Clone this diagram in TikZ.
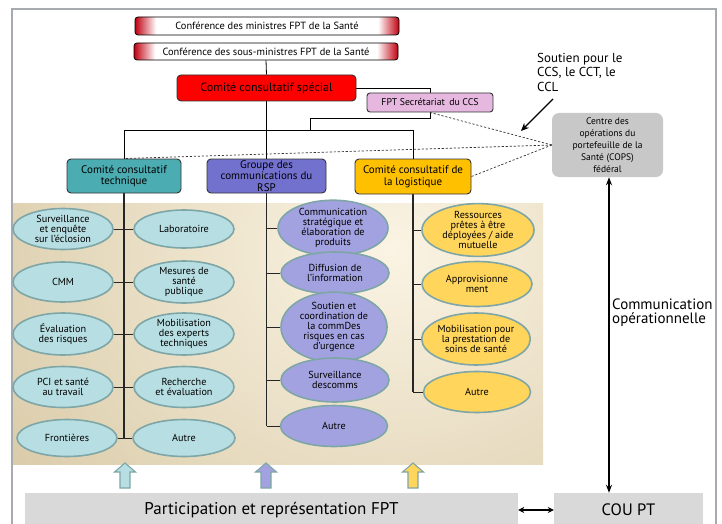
\documentclass[tikz,border=0pt]{standalone}
\usepackage{fontspec}
\setmainfont{PT Sans}
\usetikzlibrary{shapes.geometric,arrows.meta,calc}
\pgfdeclarelayer{bgpanel}
\pgfdeclarelayer{bglines}
\pgfsetlayers{bgpanel,bglines,main}
\definecolor{framegray}{HTML}{A7ABAF}
\definecolor{dred}{HTML}{C00010}
\definecolor{ccsred}{HTML}{FF0000}
\definecolor{tealbox}{HTML}{4BACB2}
\definecolor{purpbox}{HTML}{7371CE}
\definecolor{yelbox}{HTML}{FFC000}
\definecolor{secpink}{HTML}{E6B8DF}
\definecolor{copsgray}{HTML}{C8C8C8}
\definecolor{tealL}{HTML}{B7DEE2}
\definecolor{purpL}{HTML}{A3A2E0}
\definecolor{yelL}{HTML}{FFD55C}
\definecolor{ellb}{HTML}{7EA6A6}
\definecolor{botgray}{HTML}{D9D9D9}
\definecolor{cream}{HTML}{FBF4E4}
\definecolor{tanb}{HTML}{D3C39D}
\pgfdeclarehorizontalshading{redends}{100bp}{color(0bp)=(dred); color(25bp)=(dred); color(29bp)=(white); color(71bp)=(white); color(75bp)=(dred); color(100bp)=(dred)}
\begin{document}
\begin{tikzpicture}[x=1pt,y=-1pt,
  every node/.style={text=black},
  topbox/.style={draw=black, line width=0.8, rounded corners=3, shade, shading=redends, minimum width=264, inner sep=0, font=\fontsize{10.4}{11}\selectfont},
  lvbox/.style={draw=black!80, line width=0.9, rounded corners=4, inner sep=1, align=center, minimum height=34, font=\fontsize{11}{11.5}\selectfont},
  ell/.style={ellipse, draw=ellb, line width=1.6, inner sep=0, align=center, font=\fontsize{10.2}{10}\selectfont},
  tree/.style={draw=black, line width=0.8},
  branch/.style={draw=black!85, line width=1},
  dotlink/.style={draw=black!80, line width=0.7, dash pattern=on 2.2pt off 1.8pt},
  graybox/.style={fill=botgray, inner sep=0, minimum height=34},
  blockarr/.style={draw=ellb, line width=1.1}
]
\clip (0,0) rectangle (722,524);
\begin{pgfonlayer}{bgpanel}
\fill[white] (0,0) rectangle (722,524);
\begin{scope}
\clip (12,203) rectangle (543,464);
\fill[tanb] (12,203) rectangle (543,464);
\shade[inner color=cream, outer color=tanb] (390,250) ellipse (560pt and 470pt);
\end{scope}
\end{pgfonlayer}
% frame
\draw[framegray, line width=1.5] (12,530) -- (12,9) -- (716,9) -- (716,530);

% top boxes
\node[topbox, minimum height=18] (m1) at (267,26) {Conférence des ministres FPT de la Santé};
\node[topbox, minimum height=17] (m2) at (266,51.5) {Conférence des sous-ministres FPT de la Santé};
\node[draw=black!80, line width=0.9, rounded corners=4, fill=ccsred, minimum width=179, minimum height=26, inner sep=0, font=\fontsize{12}{13}\selectfont] (ccs) at (266.5,88) {Comité consultatif spécial};
\node[draw=black!80, line width=0.9, rounded corners=3, fill=secpink, minimum width=126, minimum height=19, inner sep=0, font=\fontsize{9.8}{10}\selectfont] (sec) at (430,102.5) {FPT Secrétariat\, du CCS};
\node[fill=copsgray, rounded corners=7, minimum width=111, minimum height=64, inner sep=0, align=center, font=\fontsize{9.5}{12}\selectfont] (cops) at (607.5,145) {Centre des\\opérations du\\portefeuille de la\\Santé (COPS)\\fédéral};
\node[anchor=north west, align=left, inner sep=0, font=\fontsize{13}{14.5}\selectfont] (sup) at (537,53) {Soutien pour le\\CCS, le CCT, le\\CCL};

% level 2
\node[lvbox, fill=tealbox, minimum width=114] (cct) at (124,176) {Comité consultatif\\technique};
\node[lvbox, fill=purpbox, minimum width=119] (grp) at (266.5,176) {Groupe des\\communications du\\RSP};
\node[lvbox, fill=yelbox, minimum width=116, minimum height=35] (log) at (413,176.5) {Comité consultatif de\\la logistique};

% teal ellipses
\node[ell, fill=tealL, minimum width=100, minimum height=41] (t1) at (63,229) {Surveillance\\et enquête\\sur l'éclosion};
\node[ell, fill=tealL, minimum width=100, minimum height=38] (t2) at (184,229) {Laboratoire};
\node[ell, fill=tealL, minimum width=100, minimum height=40] (t3) at (63,282) {CMM};
\node[ell, fill=tealL, minimum width=100, minimum height=42] (t4) at (184,282) {Mesures de\\santé\\publique};
\node[ell, fill=tealL, minimum width=100, minimum height=42] (t5) at (63,334) {Évaluation\\des risques};
\node[ell, fill=tealL, minimum width=100, minimum height=42] (t6) at (184,334) {Mobilisation\\des experts\\techniques};
\node[ell, fill=tealL, minimum width=100, minimum height=41] (t7) at (63,387) {PCI et santé\\au travail};
\node[ell, fill=tealL, minimum width=100, minimum height=41] (t8) at (184,387) {Recherche\\et évaluation};
\node[ell, fill=tealL, minimum width=100, minimum height=37] (t9) at (67,438) {Frontières};
\node[ell, fill=tealL, minimum width=102, minimum height=37] (t10) at (184,438) {Autre};

% purple ellipses
\node[ell, fill=purpL, minimum width=110, minimum height=44] (p1) at (333,228) {Communication\\stratégique et\\élaboration de\\produits};
\node[ell, fill=purpL, minimum width=108, minimum height=42] (p2) at (335,273) {Diffusion de\\l'information};
\node[ell, fill=purpL, minimum width=106, minimum height=57] (p3) at (334,327) {Soutien et\\coordination de\\la commDes\\risques en cas\\d'urgence};
\node[ell, fill=purpL, minimum width=108, minimum height=44] (p4) at (335,380) {Surveillance\\descomms};
\node[ell, fill=purpL, minimum width=107, minimum height=41] (p5) at (334,426) {Autre};

% yellow ellipses
\node[ell, fill=yelL, minimum width=112, minimum height=45] (y1) at (478,230) {Ressources\\prêtes à être\\déployées / aide\\mutuelle};
\node[ell, fill=yelL, minimum width=110, minimum height=45] (y2) at (477,284) {Approvisionne\\ment};
\node[ell, fill=yelL, minimum width=108, minimum height=52] (y3) at (476,339) {Mobilisation pour\\la prestation de\\soins de santé};
\node[ell, fill=yelL, minimum width=107, minimum height=41] (y4) at (477,392) {Autre};

% bottom boxes
\node[graybox, minimum width=493, font=\fontsize{17}{18}\selectfont] (part) at (271.5,510) {Participation et représentation FPT};
\node[graybox, minimum width=149, font=\fontsize{16.5}{18}\selectfont] (coupt) at (628.5,510) {COU PT};

% named helper coordinates
\coordinate (bar) at (266,130);
\coordinate (secturn) at (430,118);
\coordinate (secjoin) at (310,130);
\coordinate (tbot) at (124,438);
\coordinate (supstart) at (553,99);
\coordinate (suptip) at (521,131);

\begin{pgfonlayer}{bglines}
\draw[tree] (m2.south) -- (ccs.north);
\draw[tree] (ccs.south) -- (grp.north);
\draw[tree] (cct.north) -- (cct.north |- bar) -- (log.north |- bar) -- (log.north);
\draw[tree] (ccs.east) -| (secturn) -| (secjoin);
\draw[branch, line width=1.3] (cct.south) -- (tbot);
\draw[branch, line width=1.3] (grp.south) -- (grp.south |- p5.west);
\draw[branch, line width=1.3] (log.south) -- (log.south |- y4.west);
\end{pgfonlayer}

\draw[branch] (t1.east) -- (t2.west);
\draw[branch] (t3.east) -- (t4.west);
\draw[branch] (t5.east) -- (t6.west);
\draw[branch] (t7.east) -- (t8.west);
\draw[branch] (t9.east) -- (t10.west);
\foreach \e in {p1,p2,p3,p4,p5}{\draw[branch] (grp.south |- \e.west) -- (\e.west);}
\foreach \e in {y1,y2,y3,y4}{\draw[branch] (log.south |- \e.west) -- (\e.west);}

% dashed links
\draw[dotlink] (cops.west) -- (sec.south);
\draw[dotlink] (cops.west) -- (cct.north);
\draw[dotlink] (cops.west) -- (log.east);

% arrows
\draw[line width=1.2, -{Stealth[length=8pt,width=7pt]}] (supstart) -- (suptip);
\draw[line width=1.6, {Stealth[length=8pt,width=6pt]}-{Stealth[length=8pt,width=6pt]}] (cops.south -| 609,0) -- (coupt.north -| 609,0);
\node[anchor=west, align=left, inner sep=0, font=\fontsize{15}{14}\selectfont] (opl) at (612,313) {Communication\\opérationnelle};
\draw[line width=1.6, {Stealth[length=6pt,width=6pt]}-{Stealth[length=6pt,width=6pt]}] (part.east) -- (coupt.west);

% block arrows
\draw[blockarr, fill=tealL, shift={(125,488)}] (-5,0) -- (-5,-16) -- (-10.5,-16) -- (0,-25) -- (10.5,-16) -- (5,-16) -- (5,0) -- cycle;
\draw[blockarr, fill=purpL, shift={(266,488)}] (-5,0) -- (-5,-16) -- (-10.5,-16) -- (0,-25) -- (10.5,-16) -- (5,-16) -- (5,0) -- cycle;
\draw[blockarr, fill=yelL, shift={(413,488)}] (-5,0) -- (-5,-16) -- (-10.5,-16) -- (0,-25) -- (10.5,-16) -- (5,-16) -- (5,0) -- cycle;
\end{tikzpicture}
\end{document}
